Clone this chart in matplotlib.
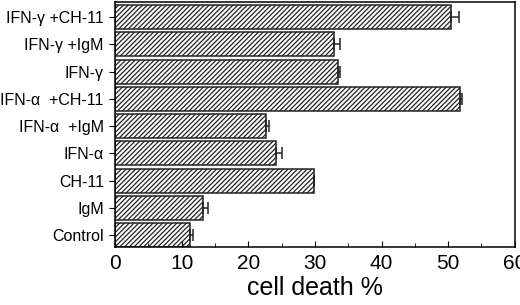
import matplotlib
matplotlib.use('Agg')
import matplotlib.pyplot as plt
from matplotlib.ticker import MultipleLocator

plt.rcParams['font.family'] = ['Liberation Sans', 'DejaVu Sans']
plt.rcParams['hatch.color'] = '#2a2a2a'
plt.rcParams['hatch.linewidth'] = 0.9

labels = ['Control', 'IgM', 'CH-11', 'IFN-\u03b1', 'IFN-\u03b1  +IgM', 'IFN-\u03b1  +CH-11',
          'IFN-\u03b3', 'IFN-\u03b3 +IgM', 'IFN-\u03b3 +CH-11']
values = [11.3, 13.25, 29.8, 24.1, 22.6, 51.8, 33.5, 32.8, 50.4]
errors = [0.4, 0.75, 0.0, 0.9, 0.5, 0.3, 0.2, 1.0, 1.3]

fig = plt.figure(figsize=(5.2, 3.05), dpi=100)
ax = fig.add_axes([0.221, 0.19, 0.769, 0.805])

pos = list(range(len(labels)))
ax.barh(pos, values, height=0.88, color='white', edgecolor='#222222',
        linewidth=1.1, hatch='///////')
ax.errorbar(values, pos, xerr=[[0] * len(errors), errors], fmt='none',
            ecolor='#222222', elinewidth=1.1, capsize=4, capthick=1.1)

ax.set_xlim(0, 60)
ax.set_ylim(-0.44, 8.57)
ax.set_yticks(pos)
ax.set_yticklabels(labels, fontsize=11.5)
ax.xaxis.set_major_locator(MultipleLocator(10))
ax.xaxis.set_minor_locator(MultipleLocator(5))
ax.tick_params(axis='x', direction='in', which='both', labelsize=15, pad=5)
ax.tick_params(axis='x', which='major', length=4)
ax.tick_params(axis='x', which='minor', length=3)
ax.tick_params(axis='y', direction='out', length=4, pad=4)
ax.set_xlabel('cell death %', fontsize=18, labelpad=2)
for s in ax.spines.values():
    s.set_linewidth(1.1)

fig.savefig('out.png', dpi=100)
